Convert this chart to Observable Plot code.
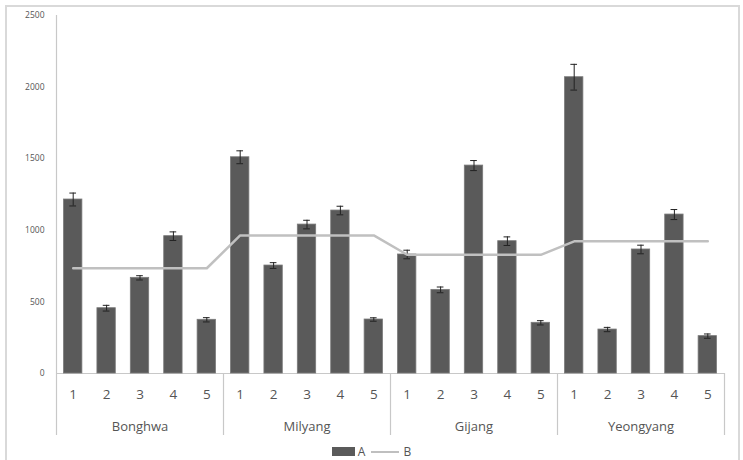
<!DOCTYPE html>
<html><head><meta charset="utf-8">
<script src="https://cdn.jsdelivr.net/npm/d3@7"></script>
<script src="https://cdn.jsdelivr.net/npm/@observablehq/plot@0.6"></script>
<style>
body{margin:0;background:#fff;width:743px;height:460px;overflow:hidden;position:relative;font-family:"Open Sans",sans-serif}
#frame{position:absolute;left:5px;top:5px;width:731px;height:470px;border:2px solid #d9d9d9}
#chart{position:absolute;left:0;top:0}
#legend{position:absolute;top:443px;left:0;width:743px;display:flex;justify-content:center;align-items:center;font-size:12px;color:#555}
.sw{display:inline-block;width:23px;height:9px;background:#5a5a5a;margin-right:3px}
.ln{display:inline-block;width:28px;height:2px;background:#bfbfbf;margin:0 4px 0 6px}
</style></head>
<body>
<div id="frame"></div>
<div id="chart"></div>
<div id="legend"><span class="sw"></span><span>A</span><span class="ln"></span><span>B</span></div>
<script>
const groups = ["Bonghwa", "Milyang", "Gijang", "Yeongyang"];
const samples = ["1", "2", "3", "4", "5"];
const seriesA = [
  [1215, 456, 668, 959, 375],
  [1510, 754, 1040, 1138, 377],
  [831, 584, 1452, 924, 354],
  [2069, 307, 866, 1110, 261]
];
const errA = [
  [45, 20, 15, 30, 15],
  [45, 20, 30, 30, 12],
  [30, 20, 35, 30, 15],
  [90, 15, 30, 35, 15]
];
const seriesB = [735, 964, 829, 923];
const yTicks = [0, 500, 1000, 1500, 2000, 2500];

const rows = [];
groups.forEach((g, gi) => samples.forEach((s, si) => {
  const i = gi * samples.length + si;
  rows.push({group: g, sample: s, i, c: i + 0.5, a: seriesA[gi][si], e: errA[gi][si], b: seriesB[gi]});
}));
const n = rows.length;
const half = 0.275, cap = 0.1;
const bounds = d3.range(0, n + 1, samples.length);
const groupCenters = groups.map((g, gi) => ({g, c: gi * samples.length + samples.length / 2}));
const font = "Open Sans, sans-serif";

const plot = Plot.plot({
  width: 743, height: 440,
  marginLeft: 56, marginRight: 19, marginTop: 15, marginBottom: 67,
  x: {domain: [0, n], axis: null},
  y: {domain: [0, 2500], axis: null},
  style: {fontFamily: font, fontSize: "8.5px", color: "#555", background: "transparent"},
  marks: [
    Plot.axisY({ticks: yTicks, tickSize: 0, tickPadding: 12, tickFormat: d => String(d), label: null, fill: "#555", fontSize: 8.5, style: {letterSpacing: "0.8px"}}),
    Plot.ruleX([0], {y1: 0, y2: 2500, stroke: "#c8c8c8", strokeWidth: 1.2}),
    Plot.ruleX(bounds, {y1: 0, y2: 0, insetBottom: -62, stroke: "#c8c8c8", strokeWidth: 1.2}),
    Plot.ruleY([0], {x1: 0, x2: n, stroke: "#c8c8c8", strokeWidth: 1.2}),
    Plot.rectY(rows, {x1: d => d.c - half, x2: d => d.c + half, y1: 0, y2: "a", fill: "#5a5a5a", stroke: "#7a7a7a", strokeWidth: 0.8}),
    Plot.ruleX(rows, {x: "c", y1: d => d.a - d.e, y2: d => d.a + d.e, stroke: "#222", strokeWidth: 1}),
    Plot.ruleY(rows, {y: d => d.a + d.e, x1: d => d.c - cap, x2: d => d.c + cap, stroke: "#222", strokeWidth: 1}),
    Plot.ruleY(rows, {y: d => d.a - d.e, x1: d => d.c - cap, x2: d => d.c + cap, stroke: "#222", strokeWidth: 1}),
    Plot.line(rows, {x: "c", y: "b", stroke: "#c0c0c0", strokeWidth: 2.5}),
    Plot.text(rows, {x: "c", y: () => 0, text: "sample", dy: 21, fontSize: 13.5, fill: "#555"}),
    Plot.text(groupCenters, {x: "c", y: () => 0, text: "g", dy: 53, fontSize: 13, fill: "#555", style: {letterSpacing: "1.6px"}})
  ]
});
document.getElementById("chart").appendChild(plot);
</script>
</body></html>
